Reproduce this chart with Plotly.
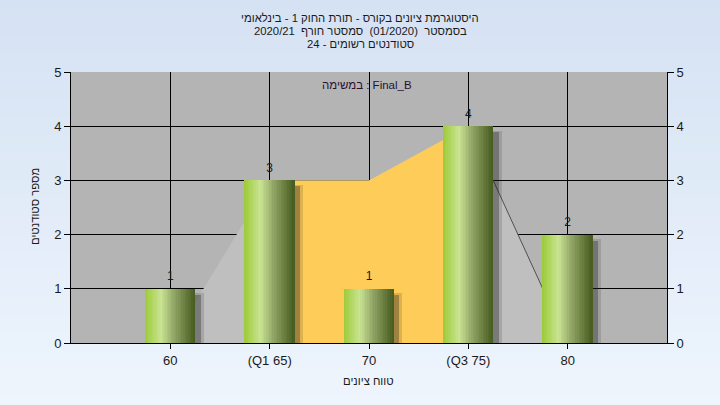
import plotly.graph_objects as go

# ---- data ----
categories = [60, 65, 70, 75, 80]
tick_labels = ["60", "(Q1 65)", "70", "(Q3 75)", "80"]
counts = [1, 3, 1, 4, 2]
area_values = [0, 3, 3, 4, 0]          # distribution outline (grey/orange area)
iqr_index = [1, 2, 3]                   # Q1..Q3 portion (orange)
y_ticks = [0, 1, 2, 3, 4, 5]

title_lines = [
    "היסטוגרמת ציונים בקורס - תורת החוק 1 - בינלאומי",
    "בסמסטר  (01/2020)  סמסטר חורף  2020/21",
    "סטודנטים רשומים - 24",
]
legend_text = "במשימה : Final_B"
x_title = "טווח ציונים"
y_title = "מספר סטודנטים"

FONT = "Liberation Sans, Arial, DejaVu Sans, sans-serif"
W, H = 720, 405
L, R, T, B = 71, 667, 72, 343
pos = list(range(len(categories)))

def hex2rgb(h):
    h = h.lstrip("#")
    return tuple(int(h[i:i + 2], 16) for i in (0, 2, 4))

def lerp_color(stops, t):
    for (t0, c0), (t1, c1) in zip(stops, stops[1:]):
        if t0 <= t <= t1:
            f = (t - t0) / (t1 - t0) if t1 > t0 else 0
            a, b = hex2rgb(c0), hex2rgb(c1)
            return "rgb(%d,%d,%d)" % tuple(round(a[k] + (b[k] - a[k]) * f) for k in range(3))
    return stops[-1][1]

fig = go.Figure()

# distribution area (grey) and IQR part (orange) on the main (lower) subplot
fig.add_trace(go.Scatter(x=pos, y=area_values, mode="lines", fill="tozeroy",
                         fillcolor="#BFBFBF", line=dict(width=0), hoverinfo="skip",
                         showlegend=False))
fig.add_trace(go.Scatter(x=[pos[i] for i in iqr_index], y=[area_values[i] for i in iqr_index],
                         mode="lines", fill="tozeroy", fillcolor="#FECC58",
                         line=dict(width=0), hoverinfo="skip", showlegend=False))
fig.add_trace(go.Scatter(x=pos[3:], y=area_values[3:], mode="lines",
                         line=dict(color="#505050", width=1), hoverinfo="skip",
                         showlegend=False))

# bars on the overlaying subplot (drawn above the area)
bw = 0.5
fig.add_trace(go.Bar(x=pos, y=counts, base=-0.08, offset=-bw / 2 + 0.085, width=bw, yaxis="y2",
                     marker=dict(color="rgba(30,30,30,0.15)", line=dict(width=0)),
                     showlegend=False, hoverinfo="skip"))
fig.add_trace(go.Bar(x=pos, y=counts, base=-0.11, offset=-bw / 2 + 0.055, width=bw, yaxis="y2",
                     marker=dict(color="rgba(30,30,30,0.32)", line=dict(width=0)),
                     showlegend=False, hoverinfo="skip"))

stops = [(0.0, "#9CCB38"), (0.32, "#C9E392"), (0.6, "#8FA364"), (1.0, "#465B1E")]
N = 30
for i in range(N):
    t = (i + 0.5) / N
    fig.add_trace(go.Bar(x=pos, y=counts, offset=-bw / 2 + i * bw / N, width=bw / N * 1.15,
                         yaxis="y2",
                         marker=dict(color=lerp_color(stops, t), line=dict(width=0)),
                         showlegend=False, hoverinfo="skip"))

# value labels
fig.add_trace(go.Scatter(x=pos, y=counts, mode="markers+text", text=[str(c) for c in counts],
                         textposition="top center", cliponaxis=False, yaxis="y2",
                         marker=dict(size=7, opacity=0),
                         textfont=dict(family=FONT, size=12, color="#1a1a1a"),
                         showlegend=False, hoverinfo="skip"))

# background gradient bands (paper)
def px_x(p):
    return (p - L) / (R - L)

def px_y(p):
    return (B - p) / (B - T)

top_c, bot_c = "#D5E2F3", "#EEF5FD"
shapes = []
nb = 45
for k in range(nb):
    y0p = k * H / nb
    y1p = (k + 1) * H / nb + 1
    c = lerp_color([(0, top_c), (1, bot_c)], (k + 0.5) / nb)
    shapes.append(dict(type="rect", xref="paper", yref="paper", layer="below",
                       x0=px_x(0), x1=px_x(W), y0=px_y(y1p), y1=px_y(y0p),
                       fillcolor=c, line=dict(width=0)))
shapes.append(dict(type="rect", xref="paper", yref="paper", layer="below",
                   x0=0, x1=1, y0=0, y1=1, fillcolor="#B4B4B4", line=dict(width=0)))

annotations = []
for line, py in zip(title_lines, [18, 31, 44]):
    annotations.append(dict(text=line, xref="paper", yref="paper", x=px_x(360), y=px_y(py),
                            xanchor="center", yanchor="middle", showarrow=False,
                            font=dict(family=FONT, size=11.3, color="#1a1a1a")))
annotations.append(dict(text=legend_text, xref="paper", yref="paper", x=px_x(367), y=px_y(85),
                        xanchor="center", yanchor="middle", showarrow=False,
                        font=dict(family=FONT, size=11.5, color="#2a1030")))
annotations.append(dict(text=y_title, xref="paper", yref="paper", x=px_x(35), y=px_y(207),
                        xanchor="center", yanchor="middle", showarrow=False, textangle=-90,
                        font=dict(family=FONT, size=11.3, color="#1a1a1a")))
annotations.append(dict(text=x_title, xref="paper", yref="paper", x=px_x(368), y=px_y(381),
                        xanchor="center", yanchor="middle", showarrow=False,
                        font=dict(family=FONT, size=11.3, color="#1a1a1a")))

axis_font = dict(family=FONT, size=13, color="#1a1a1a")
fig.update_layout(
    width=W, height=H,
    margin=dict(l=L, r=W - R, t=T, b=H - B, pad=0),
    paper_bgcolor="#E2ECF8", plot_bgcolor="rgba(0,0,0,0)",
    barmode="overlay", bargap=0,
    shapes=shapes, annotations=annotations,
    xaxis=dict(range=[-1, len(categories)], tickmode="array", tickvals=pos, ticktext=tick_labels,
               showgrid=True, gridcolor="#000000", gridwidth=1, zeroline=False,
               showline=True, linecolor="#000000", linewidth=1,
               ticks="outside", ticklen=5, tickcolor="#000000", tickfont=axis_font),
    yaxis=dict(range=[0, 5], tickmode="array", tickvals=y_ticks,
               showgrid=True, gridcolor="#000000", gridwidth=1, zeroline=False,
               showline=True, linecolor="#000000", linewidth=1,
               ticks="outside", ticklen=6, tickcolor="#000000", tickfont=axis_font),
    yaxis2=dict(range=[0, 5], overlaying="y", side="right", tickmode="array", tickvals=y_ticks,
                showgrid=False, zeroline=False, showline=True, linecolor="#000000", linewidth=1,
                ticks="outside", ticklen=6, tickcolor="#000000", tickfont=axis_font),
    showlegend=False,
)

fig.write_html("out.html", config={"displayModeBar": False},
               post_script="document.body.style.margin='0';document.body.style.overflow='hidden';")
